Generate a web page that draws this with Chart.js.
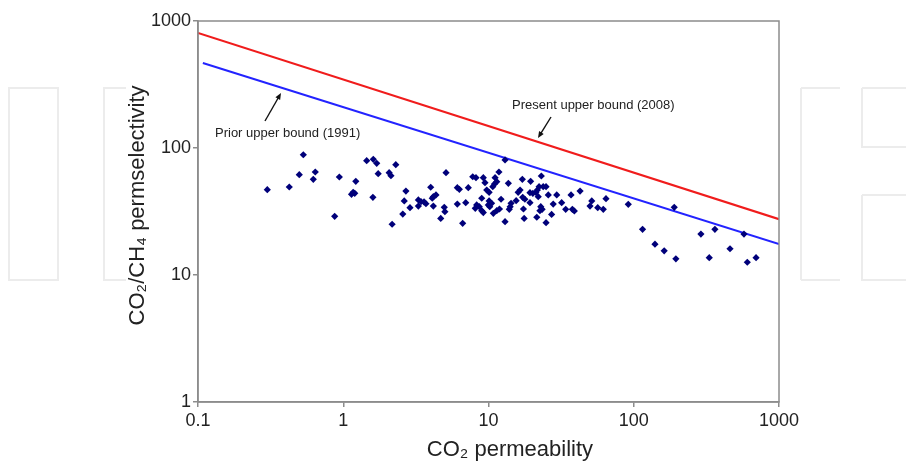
<!DOCTYPE html>
<html lang="en">
<head>
    <meta charset="UTF-8">
    <title>CO2/CH4 upper bound</title>
    <script src="https://cdn.jsdelivr.net/npm/chart.js"></script>
    <style>
        html, body {
            margin: 0;
            padding: 0;
            background: #ffffff;
        }

        #wrap {
            width: 906px;
            height: 461px;
        }
    </style>
</head>
<body>

    <div id="wrap"><canvas id="myChart" width="906" height="461"></canvas></div>

    <script>
        // membrane data (CO2 permeability, CO2/CH4 selectivity)
        const permeability = [
            0.30, 0.425, 0.531, 0.498, 0.642, 0.622, 0.94, 1.22, 1.17, 1.14, 1.20, 0.873,
            1.45, 1.61, 1.70, 2.30, 1.74, 2.07, 2.13, 5.10, 1.60, 2.70, 2.63, 4.00, 6.10,
            2.88, 3.29, 3.43, 3.60, 3.71, 3.29, 4.17, 4.35, 4.10, 4.17, 4.96, 5.01, 6.10,
            2.57, 4.69, 2.17, 13.0, 11.8, 7.79, 8.20, 9.21, 11.1, 11.4, 11.0, 10.7, 9.46,
            6.30, 7.26, 13.7, 17.1, 19.5, 23.1, 22.3, 23.8, 24.9, 21.7, 21.2, 16.5, 16.0,
            19.3, 20.2, 9.72, 10.1, 25.8, 29.5, 17.2, 17.8, 8.98, 22.0, 12.2, 15.5, 6.97,
            8.29, 8.64, 8.11, 10.1, 10.5, 9.97, 10.2, 14.3, 14.1, 13.9, 19.3, 22.9, 23.4,
            22.6, 27.9, 8.98, 9.21, 11.9, 11.4, 10.8, 17.4, 27.2, 17.6, 21.5, 6.64, 13.0,
            24.9, 37.0, 42.7, 31.9, 34.0, 37.8, 39.0, 51.4, 50.0, 56.5, 61.7, 64.4, 91.7,
            115, 190, 140, 162, 195, 290, 362, 331, 460, 574, 605, 695
        ];
        const selectivity = [
            47.0, 49.3, 88.5, 61.6, 64.7, 56.7, 59.1, 54.7, 44.8, 43.2, 44.0, 29.0,
            79.4, 81.5, 75.8, 73.9, 62.8, 63.9, 60.5, 63.9, 40.9, 45.8, 38.3, 49.1, 48.7,
            33.9, 39.0, 37.8, 37.6, 36.4, 34.9, 41.4, 42.7, 40.2, 34.9, 34.1, 31.5, 36.2,
            30.2, 27.9, 25.1, 80.5, 64.7, 59.4, 58.4, 58.4, 58.4, 54.3, 52.1, 49.6, 53.3,
            47.3, 48.7, 52.7, 56.7, 54.7, 60.2, 49.6, 49.6, 49.6, 46.7, 44.8, 46.7, 44.8,
            44.5, 44.0, 46.7, 44.8, 42.7, 42.7, 40.9, 39.5, 40.2, 41.4, 39.5, 38.5, 37.1,
            35.6, 34.5, 33.5, 38.3, 36.7, 35.6, 34.5, 36.7, 34.5, 32.9, 37.1, 34.5, 32.9,
            32.1, 36.2, 32.1, 31.0, 33.1, 32.1, 30.6, 33.1, 30.0, 27.9, 28.5, 25.5, 26.3,
            25.8, 42.7, 45.8, 37.1, 32.9, 32.9, 31.9, 38.3, 34.9, 33.9, 32.9, 39.9, 36.0,
            22.9, 34.1, 17.5, 15.5, 13.4, 21.0, 22.9, 13.7, 16.1, 21.0, 12.6, 13.7
        ];

        // upper bound lines, end points
        const priorBoundX = [0.108, 1000];
        const priorBoundY = [467, 17.5];
        const presentBoundX = [0.1, 1000];
        const presentBoundY = [805, 27.5];

        const xTicks = [0.1, 1, 10, 100, 1000];
        const yTicks = [1, 10, 100, 1000];

        const toPoints = (xs, ys) => xs.map((x, i) => ({ x: x, y: ys[i] }));

        // faint watermark shapes in the margins + frame round the plot + labels/arrows
        const decorations = {
            id: 'decorations',
            beforeDraw(chart) {
                const ctx = chart.ctx;
                ctx.save();
                ctx.strokeStyle = '#ececec';
                ctx.lineWidth = 2;
                ctx.strokeRect(9, 88, 49, 192);
                ctx.beginPath();
                ctx.moveTo(126, 88); ctx.lineTo(104, 88); ctx.lineTo(104, 280); ctx.lineTo(126, 280);
                ctx.stroke();
                ctx.beginPath();
                ctx.moveTo(801, 88); ctx.lineTo(801, 280);
                ctx.moveTo(801, 88); ctx.lineTo(840, 88);
                ctx.moveTo(801, 280); ctx.lineTo(840, 280);
                ctx.moveTo(862, 88); ctx.lineTo(862, 147); ctx.lineTo(906, 147);
                ctx.moveTo(862, 88); ctx.lineTo(906, 88);
                ctx.moveTo(862, 195); ctx.lineTo(862, 280); ctx.lineTo(906, 280);
                ctx.moveTo(862, 195); ctx.lineTo(906, 195);
                ctx.stroke();
                ctx.restore();
            },
            afterDraw(chart) {
                const ctx = chart.ctx;
                const a = chart.chartArea;
                ctx.save();
                ctx.strokeStyle = '#8c8c8c';
                ctx.lineWidth = 1.5;
                ctx.strokeRect(a.left, a.top, a.right - a.left, a.bottom - a.top);

                ctx.fillStyle = '#222';
                ctx.font = '13px "Liberation Sans", Arial, sans-serif';
                ctx.textBaseline = 'middle';
                ctx.fillText('Prior upper bound (1991)', 215, 133);
                ctx.fillText('Present upper bound (2008)', 512, 105);

                arrow(ctx, 265, 121, 281, 93);
                arrow(ctx, 551, 117, 538, 138);
                ctx.restore();
            }
        };

        function arrow(ctx, x1, y1, x2, y2) {
            const ang = Math.atan2(y2 - y1, x2 - x1);
            ctx.strokeStyle = '#111';
            ctx.fillStyle = '#111';
            ctx.lineWidth = 1.4;
            ctx.beginPath();
            ctx.moveTo(x1, y1);
            ctx.lineTo(x2 - 4 * Math.cos(ang), y2 - 4 * Math.sin(ang));
            ctx.stroke();
            ctx.beginPath();
            ctx.moveTo(x2, y2);
            ctx.lineTo(x2 - 7 * Math.cos(ang - 0.4), y2 - 7 * Math.sin(ang - 0.4));
            ctx.lineTo(x2 - 7 * Math.cos(ang + 0.4), y2 - 7 * Math.sin(ang + 0.4));
            ctx.closePath();
            ctx.fill();
        }

        const tickFont = { family: '"Liberation Sans", Arial, sans-serif', size: 18 };
        const titleFont = { family: '"Liberation Sans", Arial, sans-serif', size: 22, lineHeight: 1 };

        new Chart(document.getElementById('myChart'), {
            type: 'scatter',
            data: {
                datasets: [
                    {
                        label: 'Membranes',
                        data: toPoints(permeability, selectivity),
                        pointStyle: 'rectRot',
                        pointRadius: 3.6,
                        pointBackgroundColor: '#00007a',
                        pointBorderColor: '#00007a',
                        pointBorderWidth: 0
                    },
                    {
                        label: 'Prior upper bound (1991)',
                        data: toPoints(priorBoundX, priorBoundY),
                        showLine: true,
                        borderColor: '#2323ff',
                        borderWidth: 2,
                        pointRadius: 0
                    },
                    {
                        label: 'Present upper bound (2008)',
                        data: toPoints(presentBoundX, presentBoundY),
                        showLine: true,
                        borderColor: '#f01c1c',
                        borderWidth: 2.2,
                        pointRadius: 0
                    }
                ]
            },
            options: {
                responsive: false,
                animation: false,
                layout: { padding: { left: 122, right: 127, top: 21, bottom: 0 } },
                plugins: {
                    legend: { display: false },
                    tooltip: { enabled: false }
                },
                scales: {
                    x: {
                        type: 'logarithmic',
                        min: 0.1,
                        max: 1000,
                        afterBuildTicks: scale => { scale.ticks = xTicks.map(v => ({ value: v })); },
                        afterFit: scale => { scale.height = 59; },
                        border: { color: '#8c8c8c', width: 1.5 },
                        grid: { drawOnChartArea: false, color: '#8c8c8c', tickLength: 5, lineWidth: 1.5 },
                        ticks: {
                            font: tickFont,
                            color: '#222',
                            padding: 3,
                            maxRotation: 0,
                            callback: v => String(v)
                        },
                        title: {
                            display: true,
                            // leading spaces push the title a little right of centre, as in the source
                            text: '       CO₂ permeability',
                            font: titleFont,
                            color: '#222',
                            padding: { top: 0, bottom: 0 }
                        }
                    },
                    y: {
                        type: 'logarithmic',
                        min: 1,
                        max: 1000,
                        afterBuildTicks: scale => { scale.ticks = yTicks.map(v => ({ value: v })); },
                        afterFit: scale => { scale.width = 76; },
                        border: { color: '#8c8c8c', width: 1.5 },
                        grid: { drawOnChartArea: false, color: '#8c8c8c', tickLength: 5, lineWidth: 1.5 },
                        ticks: {
                            font: tickFont,
                            color: '#222',
                            padding: 2,
                            callback: v => String(v)
                        },
                        title: {
                            display: true,
                            text: '  CO₂/CH₄ permselectivity',
                            font: titleFont,
                            color: '#222',
                            padding: { top: 5, bottom: 0 }
                        }
                    }
                }
            },
            plugins: [decorations]
        });
    </script>

</body>
</html>
